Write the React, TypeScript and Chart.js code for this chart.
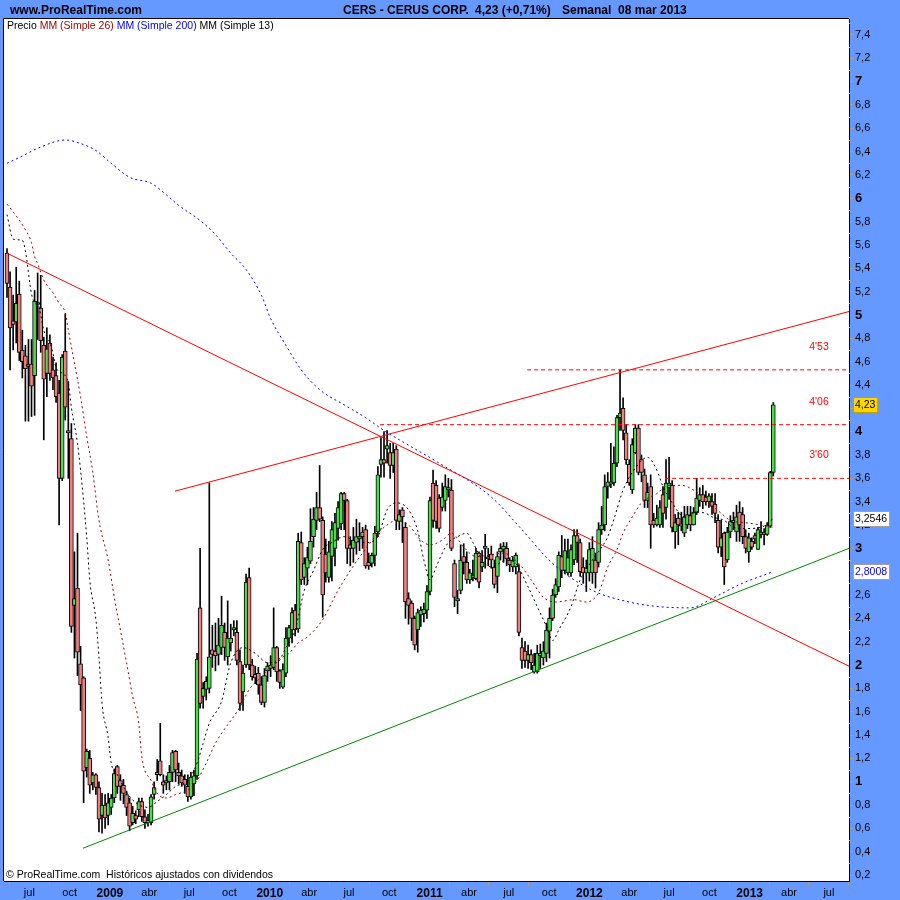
import React, { useEffect, useRef } from "react";
import { Chart, registerables } from "chart.js";
Chart.register(...registerables);

// Weekly candles, week 0 = 12 May 2008, last = 04 Mar 2013
const opens = [
  5.53, 5.24, 4.95, 4.94, 5.18, 4.70, 4.65, 4.58, 4.58, 4.48,
  5.10, 5.06, 4.74, 4.50, 4.76, 4.53, 4.48, 4.33, 3.60, 4.69,
  4.01, 3.94, 2.51, 2.66, 2.01, 1.89, 1.12, 1.20, 0.99, 1.06,
  0.95, 0.71, 0.80, 0.71, 0.78, 0.86, 1.13, 1.01, 0.97, 0.89,
  0.82, 0.65, 0.71, 0.76, 0.83, 0.70, 0.65, 0.65, 0.89, 1.06,
  1.18, 1.00, 0.99, 1.00, 1.08, 1.26, 1.08, 1.05, 1.02, 0.96,
  0.87, 0.98, 1.05, 2.49, 1.73, 1.79, 1.80, 2.13, 2.12, 2.09,
  2.15, 2.28, 2.07, 2.19, 2.30, 2.28, 2.03, 1.77, 2.00, 2.75,
  2.00, 1.92, 1.93, 1.83, 1.68, 1.95, 1.97, 1.98, 2.15, 1.95,
  1.81, 1.93, 2.23, 2.30, 2.47, 2.31, 3.05, 2.75, 2.83, 2.89,
  3.10, 3.24, 3.35, 3.24, 2.95, 2.75, 2.93, 3.00, 3.17, 3.21,
  3.47, 3.41, 3.03, 3.00, 3.05, 3.08, 3.10, 3.16, 2.88, 2.87,
  2.94, 3.14, 3.72, 3.76, 3.85, 3.82, 3.71, 3.85, 3.23, 3.33,
  3.18, 2.57, 2.53, 2.40, 2.30, 2.43, 2.44, 2.47, 2.63, 3.56,
  3.54, 3.43, 3.35, 3.41, 3.50, 3.50, 2.87, 2.55, 2.64, 2.93,
  2.88, 2.73, 2.75, 2.74, 2.96, 2.84, 3.00, 2.92, 2.95, 2.84,
  2.76, 2.97, 2.99, 3.00, 2.90, 2.84, 2.84, 2.80, 2.15, 2.12,
  2.04, 2.09, 1.94, 1.94, 2.08, 2.06, 2.10, 2.29, 2.40, 2.60,
  2.67, 2.93, 2.81, 2.79, 2.79, 2.90, 3.11, 3.05, 2.84, 2.79,
  2.79, 2.79, 2.90, 2.88, 3.16, 3.20, 3.53, 3.55, 3.56, 3.73,
  4.12, 4.20, 3.99, 3.72, 3.50, 3.82, 4.03, 3.76, 3.63, 3.41,
  3.53, 3.24, 3.20, 3.20, 3.46, 3.35, 3.52, 3.54, 3.14, 3.26,
  3.21, 3.13, 3.20, 3.28, 3.20, 3.31, 3.41, 3.46, 3.44, 3.40,
  3.40, 3.38, 3.24, 3.01, 3.13, 2.90, 3.14, 3.22, 3.14, 3.31,
  3.29, 3.10, 2.97, 3.06, 3.11, 2.99, 3.14, 3.12, 3.12, 3.19,
  3.65,
];
const highs = [
  5.57, 5.37, 5.17, 5.41, 5.29, 4.87, 4.74, 4.79, 4.79, 5.21,
  5.36, 5.34, 4.81, 4.89, 4.83, 4.64, 4.59, 4.44, 4.66, 5.01,
  4.43, 4.07, 2.97, 3.13, 2.16, 1.90, 1.28, 1.27, 1.08, 1.07,
  1.00, 0.90, 0.89, 0.90, 0.89, 1.11, 1.14, 1.06, 1.02, 0.92,
  0.86, 0.79, 0.75, 0.86, 0.86, 0.76, 0.72, 0.89, 1.00, 1.19,
  1.50, 1.06, 1.05, 1.14, 1.27, 1.27, 1.16, 1.10, 1.06, 1.06,
  1.08, 1.10, 2.10, 3.00, 1.85, 1.90, 3.56, 2.34, 2.36, 2.40,
  2.59, 2.36, 2.55, 2.35, 2.38, 2.38, 2.13, 2.00, 2.78, 2.83,
  2.05, 1.99, 1.98, 1.90, 1.97, 2.02, 2.08, 2.49, 2.16, 1.96,
  2.01, 2.32, 2.34, 2.49, 2.52, 3.13, 3.14, 2.92, 3.01, 3.34,
  3.35, 3.48, 3.71, 3.27, 3.08, 3.06, 3.23, 3.30, 3.40, 3.48,
  3.48, 3.42, 3.10, 3.18, 3.25, 3.22, 3.18, 3.20, 2.96, 2.96,
  3.19, 3.70, 3.95, 4.00, 4.01, 3.90, 3.90, 3.88, 3.33, 3.35,
  3.22, 2.62, 2.55, 2.42, 2.48, 2.50, 2.53, 2.68, 3.44, 3.67,
  3.58, 3.46, 3.56, 3.63, 3.60, 3.59, 2.90, 2.64, 3.03, 3.04,
  2.97, 2.82, 2.90, 3.00, 2.97, 2.98, 3.12, 3.00, 3.02, 2.90,
  2.97, 3.04, 3.05, 3.05, 2.92, 2.93, 2.96, 2.86, 2.23, 2.20,
  2.17, 2.13, 2.10, 2.17, 2.18, 2.20, 2.36, 2.49, 2.65, 2.74,
  2.97, 3.11, 3.08, 3.08, 3.03, 3.16, 3.16, 3.08, 2.92, 2.90,
  3.05, 3.10, 2.96, 3.22, 3.36, 3.63, 3.65, 3.90, 3.87, 4.14,
  4.53, 4.29, 4.06, 3.76, 3.94, 4.06, 4.06, 3.80, 3.68, 3.56,
  3.63, 3.30, 3.37, 3.41, 3.53, 3.76, 3.78, 3.58, 3.29, 3.31,
  3.31, 3.36, 3.36, 3.36, 3.35, 3.60, 3.52, 3.54, 3.49, 3.47,
  3.47, 3.47, 3.29, 3.24, 3.14, 3.18, 3.28, 3.31, 3.37, 3.40,
  3.35, 3.16, 3.13, 3.09, 3.13, 3.18, 3.23, 3.17, 3.22, 3.66,
  4.25,
];
const lows = [
  5.15, 4.53, 4.70, 4.76, 4.61, 4.46, 4.09, 4.09, 4.13, 4.14,
  4.79, 4.68, 3.93, 4.30, 4.44, 4.36, 4.25, 3.20, 3.58, 4.10,
  3.60, 2.28, 2.06, 1.91, 1.61, 0.82, 1.04, 0.90, 0.93, 0.89,
  0.57, 0.56, 0.60, 0.63, 0.72, 0.82, 0.90, 0.84, 0.81, 0.71,
  0.58, 0.63, 0.64, 0.70, 0.66, 0.60, 0.62, 0.63, 0.85, 1.01,
  1.05, 0.90, 0.93, 0.93, 1.00, 1.00, 0.98, 0.96, 0.90, 0.83,
  0.85, 0.88, 1.02, 1.63, 1.63, 1.70, 1.76, 1.98, 1.95, 2.00,
  2.09, 2.04, 2.00, 2.12, 2.25, 2.00, 1.61, 1.61, 1.98, 1.96,
  1.87, 1.84, 1.75, 1.66, 1.64, 1.86, 1.90, 1.96, 1.86, 1.80,
  1.80, 1.90, 2.16, 2.19, 2.25, 2.28, 2.69, 2.69, 2.69, 2.87,
  3.01, 3.16, 3.23, 2.41, 2.71, 2.71, 2.72, 2.85, 3.07, 3.16,
  3.16, 2.87, 2.85, 2.88, 2.95, 2.98, 3.00, 2.83, 2.82, 2.84,
  2.85, 3.10, 3.61, 3.61, 3.73, 3.60, 3.65, 3.16, 3.16, 3.05,
  2.40, 2.35, 2.21, 2.13, 2.11, 2.33, 2.37, 2.40, 2.60, 3.18,
  3.17, 3.14, 3.32, 3.32, 3.44, 2.98, 2.50, 2.44, 2.61, 2.78,
  2.70, 2.70, 2.72, 2.73, 2.66, 2.80, 2.83, 2.85, 2.83, 2.66,
  2.62, 2.90, 2.88, 2.85, 2.80, 2.80, 2.78, 2.25, 1.97, 1.98,
  1.97, 1.96, 1.93, 1.93, 1.97, 2.00, 2.03, 2.06, 2.38, 2.58,
  2.63, 2.75, 2.78, 2.77, 2.76, 2.86, 2.88, 2.76, 2.70, 2.63,
  2.72, 2.70, 2.66, 2.84, 3.12, 3.15, 3.43, 3.52, 3.54, 3.70,
  4.01, 3.93, 3.72, 3.54, 3.47, 3.81, 3.63, 3.57, 3.35, 3.35,
  3.00, 3.18, 3.19, 3.18, 3.18, 3.25, 3.42, 3.14, 3.00, 3.03,
  3.15, 3.10, 3.17, 3.15, 3.20, 3.29, 3.36, 3.34, 3.37, 3.35,
  3.29, 3.22, 2.96, 2.93, 2.69, 2.88, 3.09, 3.16, 3.06, 3.06,
  3.04, 2.96, 2.88, 2.99, 3.04, 2.99, 3.09, 3.03, 3.11, 3.18,
  3.62,
];
const closes = [
  5.27, 4.89, 4.92, 5.10, 4.68, 4.60, 4.54, 4.56, 4.39, 5.12,
  5.09, 4.78, 4.45, 4.71, 4.50, 4.46, 4.30, 3.60, 4.64, 4.21,
  3.99, 2.33, 2.57, 2.11, 1.83, 1.09, 1.26, 0.97, 1.06, 0.95,
  0.68, 0.80, 0.69, 0.82, 0.86, 1.07, 0.96, 0.96, 0.90, 0.78,
  0.62, 0.73, 0.68, 0.83, 0.70, 0.65, 0.67, 0.87, 0.95, 1.08,
  1.06, 0.97, 1.01, 1.08, 1.25, 1.10, 1.05, 0.99, 0.97, 0.87,
  1.04, 1.05, 2.05, 1.67, 1.80, 1.86, 2.07, 2.09, 2.08, 2.17,
  2.34, 2.15, 2.23, 2.23, 2.32, 2.04, 1.67, 1.93, 2.71, 2.00,
  1.90, 1.89, 1.83, 1.68, 1.91, 1.99, 2.00, 2.15, 1.94, 1.85,
  1.96, 2.23, 2.32, 2.45, 2.30, 3.06, 2.73, 2.87, 2.92, 3.06,
  3.25, 3.35, 3.25, 2.60, 2.79, 2.97, 3.16, 3.22, 3.35, 3.47,
  3.41, 3.00, 3.00, 3.07, 3.10, 3.10, 3.14, 2.85, 2.85, 2.94,
  3.13, 3.63, 3.76, 3.73, 3.88, 3.71, 3.82, 3.24, 3.29, 3.27,
  2.54, 2.51, 2.40, 2.17, 2.45, 2.47, 2.48, 2.63, 3.41, 3.24,
  3.23, 3.17, 3.44, 3.53, 3.52, 3.00, 2.58, 2.57, 2.90, 2.88,
  2.73, 2.79, 2.77, 2.96, 2.71, 2.88, 3.02, 2.91, 2.90, 2.69,
  2.93, 3.00, 3.02, 2.91, 2.86, 2.90, 2.94, 2.28, 2.04, 2.04,
  2.09, 2.02, 2.00, 2.10, 2.10, 2.12, 2.30, 2.40, 2.60, 2.69,
  2.94, 2.81, 2.98, 2.92, 2.99, 3.11, 3.05, 2.80, 2.79, 2.83,
  2.99, 3.00, 2.79, 3.16, 3.20, 3.53, 3.57, 3.57, 3.73, 4.12,
  4.16, 4.01, 3.76, 3.56, 3.89, 4.03, 3.65, 3.65, 3.41, 3.48,
  3.20, 3.20, 3.26, 3.35, 3.30, 3.56, 3.56, 3.18, 3.22, 3.20,
  3.19, 3.27, 3.29, 3.20, 3.31, 3.43, 3.46, 3.40, 3.40, 3.45,
  3.36, 3.30, 3.01, 3.09, 2.84, 3.14, 3.23, 3.24, 3.27, 3.20,
  3.10, 3.00, 3.09, 3.01, 3.08, 3.16, 3.12, 3.14, 3.20, 3.65,
  4.23,
];

// Moving averages (week index, value)
const ma13Weeks = [0, 2, 5, 6, 8, 9, 10, 12, 14, 15, 16, 18, 20, 21, 23, 24, 26, 27, 29, 30, 31, 33, 34, 36, 39, 42, 46, 49, 52, 55, 59, 62, 64, 66, 70, 73, 77, 81, 85, 88, 91, 94, 97, 100, 103, 106, 110, 113, 117, 121, 124, 127, 131, 134, 136, 138, 140, 142, 144, 147, 150, 152, 155, 158, 163, 166, 170, 173, 176, 178, 180, 184, 187, 191, 196, 198, 201, 204, 209, 212, 214, 217, 221, 225, 228, 230, 234, 237, 241, 246, 250];
const ma13Values = [5.86, 5.65, 5.64, 5.55, 5.18, 5.11, 5.10, 4.87, 4.76, 4.67, 4.55, 4.50, 4.42, 4.21, 3.90, 3.67, 3.10, 2.73, 2.39, 2.07, 1.67, 1.38, 1.16, 1.06, 0.91, 0.82, 0.78, 0.83, 0.89, 0.96, 1.01, 1.16, 1.33, 1.50, 1.69, 2.02, 2.15, 2.10, 2.02, 2.02, 2.15, 2.30, 2.64, 2.81, 2.99, 3.05, 3.10, 3.07, 3.05, 3.10, 3.33, 3.39, 3.33, 3.15, 2.90, 2.73, 2.84, 2.96, 3.05, 3.10, 3.13, 3.05, 2.90, 2.84, 2.90, 2.87, 2.67, 2.50, 2.33, 2.21, 2.30, 2.50, 2.73, 2.90, 3.10, 3.25, 3.50, 3.65, 3.78, 3.67, 3.53, 3.39, 3.27, 3.31, 3.30, 3.27, 3.24, 3.18, 3.17, 3.18, 3.2546];

const ma26Weeks = [0, 3, 6, 8, 9, 10, 12, 15, 17, 19, 20, 22, 24, 26, 28, 30, 33, 35, 37, 39, 41, 43, 44, 47, 49, 52, 55, 59, 62, 65, 68, 76, 79, 83, 88, 92, 95, 98, 103, 108, 112, 116, 121, 124, 127, 131, 135, 138, 142, 145, 149, 153, 157, 162, 167, 171, 175, 179, 185, 189, 193, 196, 199, 201, 204, 207, 212, 216, 220, 224, 229, 233, 236, 241, 246, 250];
const ma26Values = [5.95, 5.85, 5.73, 5.62, 5.50, 5.44, 5.30, 5.19, 5.10, 5.02, 4.87, 4.59, 4.30, 3.96, 3.65, 3.24, 2.90, 2.58, 2.30, 2.02, 1.73, 1.50, 1.21, 1.01, 0.90, 0.86, 0.89, 0.93, 1.01, 1.16, 1.33, 1.64, 1.79, 1.90, 2.04, 2.10, 2.19, 2.24, 2.39, 2.64, 2.81, 2.96, 3.13, 3.20, 3.24, 3.20, 3.07, 3.03, 3.07, 3.13, 3.01, 2.93, 2.94, 2.96, 2.87, 2.73, 2.58, 2.54, 2.56, 2.54, 2.62, 2.84, 2.99, 3.13, 3.27, 3.39, 3.47, 3.54, 3.54, 3.50, 3.39, 3.30, 3.24, 3.22, 3.20, 3.18];

const ma200Weeks = [0, 4, 11, 19, 24, 29, 34, 40, 47, 52, 56, 63, 68, 73, 78, 83, 86, 91, 96, 102, 110, 117, 123, 128, 141, 158, 168, 178, 191, 203, 213, 223, 230, 239, 250];
const ma200Values = [6.30, 6.35, 6.44, 6.50, 6.47, 6.41, 6.30, 6.18, 6.13, 6.03, 5.94, 5.81, 5.69, 5.53, 5.39, 5.17, 4.97, 4.74, 4.53, 4.36, 4.23, 4.12, 4.01, 3.93, 3.73, 3.44, 3.16, 2.87, 2.64, 2.54, 2.50, 2.49, 2.57, 2.69, 2.8008];

// Trendlines (week index, price)
const resistanceDown = [[0, 5.53], [274.7, 1.99]];
const resistanceUp = [[54.8, 3.49], [274.7, 5.03]];
const supportLine = [[24.8, 0.43], [274.7, 3.0]];
// Horizontal levels: start week, price, label
const levelStarts = [169.7, 121.7, 214.7];
const levelValues = [4.53, 4.06, 3.6];
const levelLabels = ["4'53", "4'06", "3'60"];

const quarterNames = ["", "abr", "jul", "oct"];
const firstTickYear = 2008, firstTickQuarter = 2, lastTickYear = 2013, lastTickQuarter = 2;

const lastPrice = 4.23;
const ma13Last = 3.2546;
const ma200Last = 2.8008;

const FONT = '"Liberation Sans", Arial, sans-serif';
const BLUE_BG = "#6699FF";
const GREEN = "#4EDC4E";
const RED = "#F08080";
const TAN = "#C0A070";
const X_MIN = -0.98, X_MAX = 274.7;
const Y_MIN = 0.149, Y_MAX = 7.537;

const START = Date.UTC(2008, 4, 11);
const weekOf = (y: number, m: number) => (Date.UTC(y, m, 1) - START) / (7 * 86400000);

export default function App() {
  const ref = useRef<HTMLCanvasElement | null>(null);
  useEffect(() => {
    document.body.style.margin = "0";
    const canvas = ref.current!;
    const idx = opens.map((_, i) => i);
    const wickData = idx.map((i) => ({ x: i, y: [lows[i], highs[i]] }));
    const bodyData = idx.map((i) => ({ x: i, y: [Math.min(opens[i], closes[i]), Math.max(opens[i], closes[i])] }));
    const bodyColors = idx.map((i) => (closes[i] >= opens[i] ? GREEN : RED));

    const xTicks: { value: number; label: string; bold: boolean }[] = [];
    for (let y = firstTickYear; y <= lastTickYear; y++) {
      for (let q = 0; q < 4; q++) {
        if (y === firstTickYear && q < firstTickQuarter) continue;
        if (y === lastTickYear && q > lastTickQuarter) continue;
        xTicks.push({ value: weekOf(y, q * 3), label: q === 0 ? String(y) : quarterNames[q], bold: q === 0 });
      }
    }
    const findTick = (v: number) => xTicks.find((t) => Math.abs(t.value - v) < 1e-6);

    const line = (pts: number[][], color: string, dash: number[] = [], width = 1) => ({
      type: "line" as const,
      data: pts.map((p) => ({ x: p[0], y: p[1] })),
      borderColor: color,
      borderWidth: width,
      borderDash: dash,
      pointRadius: 0,
      fill: false,
      order: 1,
    });
    const maLine = (weeks: number[], vals: number[], color: string, dash: number[]) => ({
      type: "line" as const,
      data: weeks.map((w, k) => ({ x: w, y: vals[k] })),
      borderColor: color,
      borderWidth: 1,
      borderDash: dash,
      pointRadius: 0,
      fill: false,
      cubicInterpolationMode: "monotone" as const,
      order: 2,
    });

    const datasets: any[] = [
      {
        type: "bar",
        data: wickData,
        backgroundColor: "#000",
        barThickness: 1,
        grouped: false,
        order: 6,
      },
      {
        type: "bar",
        data: bodyData,
        backgroundColor: bodyColors,
        borderColor: "#000",
        borderWidth: 1,
        borderSkipped: false,
        barThickness: 4,
        minBarLength: 2,
        grouped: false,
        order: 5,
      },
      maLine(ma200Weeks, ma200Values, "#0000FF", [2, 3]),
      maLine(ma26Weeks, ma26Values, "#990000", [2, 3]),
      maLine(ma13Weeks, ma13Values, "#000000", [2, 3]),
      line(resistanceDown, "#FF0000"),
      line(resistanceUp, "#FF0000"),
      line(supportLine, "#008800"),
      ...levelValues.map((v, k) => line([[levelStarts[k], v], [X_MAX, v]], "#FF0000", [4, 3])),
    ];

    const deco = {
      id: "deco",
      beforeDraw(chart: any) {
        const { ctx, chartArea: a } = chart;
        ctx.save();
        ctx.fillStyle = BLUE_BG;
        ctx.fillRect(0, 0, chart.width, chart.height);
        ctx.fillStyle = "#FFFFFF";
        ctx.fillRect(a.left, a.top, a.right - a.left, a.bottom - a.top);
        ctx.fillStyle = "#000";
        ctx.font = `bold 12px ${FONT}`;
        ctx.textBaseline = "alphabetic";
        ctx.textAlign = "left";
        ctx.fillText("www.ProRealTime.com", 10, 14);
        ctx.fillText("CERS - CERUS CORP.", 343, 14);
        ctx.fillText("4,23 (+0,71%)", 475, 14);
        ctx.fillText("Semanal  08 mar 2013", 562, 14);
        ctx.restore();
      },
      afterDraw(chart: any) {
        const { ctx, chartArea: a, scales } = chart;
        const ys = scales.y;
        ctx.save();
        ctx.strokeStyle = "#000";
        ctx.lineWidth = 1;
        ctx.beginPath();
        ctx.moveTo(a.left - 0.5, a.bottom);
        ctx.lineTo(a.left - 0.5, a.top - 0.5);
        ctx.lineTo(a.right, a.top - 0.5);
        ctx.stroke();
        ctx.strokeStyle = TAN;
        for (let k = 3; k <= 75; k += 2) {
          const y = Math.round(ys.getPixelForValue(k / 10)) + 0.5;
          ctx.beginPath();
          ctx.moveTo(a.right, y);
          ctx.lineTo(a.right + 2, y);
          ctx.stroke();
        }
        ctx.font = `10.5px ${FONT}`;
        ctx.textBaseline = "alphabetic";
        let x = 7;
        const parts: [string, string][] = [
          ["Precio ", "#000"],
          ["MM (Simple 26) ", "#990000"],
          ["MM (Simple 200) ", "#0000FF"],
          ["MM (Simple 13)", "#000"],
        ];
        for (const [t, c] of parts) {
          ctx.fillStyle = c;
          ctx.fillText(t, x, 29);
          x += ctx.measureText(t).width;
        }
        ctx.fillStyle = "#000";
        ctx.fillText("\u00A9 ProRealTime.com  Hist\u00F3ricos ajustados con dividendos", 6, 878);
        ctx.fillStyle = "#FF0000";
        ctx.textAlign = "center";
        levelValues.forEach((v, k) => {
          ctx.fillText(levelLabels[k], a.right - 30, ys.getPixelForValue(v) - 20);
        });
        const box = (v: number, text: string, bg: string, fg: string, border: string) => {
          const y = ys.getPixelForValue(v);
          ctx.font = `10.5px ${FONT}`;
          const w = ctx.measureText(text).width + 4;
          ctx.fillStyle = bg;
          ctx.fillRect(a.right + 4, Math.round(y) - 8, w, 15);
          ctx.strokeStyle = border;
          ctx.strokeRect(a.right + 4.5, Math.round(y) - 7.5, w, 15);
          ctx.fillStyle = fg;
          ctx.textAlign = "left";
          ctx.textBaseline = "middle";
          ctx.fillText(text, a.right + 6, y + 0.5);
        };
        box(lastPrice, String(lastPrice).replace(".", ","), "#FFD700", "#000", "#C0A000");
        box(ma13Last, String(ma13Last).replace(".", ","), "#FFFFFF", "#000", "#A0A0A0");
        box(ma200Last, String(ma200Last).replace(".", ","), "#FFFFFF", "#0000FF", "#A0A0A0");
        ctx.restore();
      },
    };

    const chart = new Chart(canvas, {
      type: "bar",
      data: { datasets },
      options: {
        animation: false,
        responsive: false,
        events: [],
        layout: { padding: { left: 4, top: 19, right: 0, bottom: 0 } },
        plugins: { legend: { display: false }, tooltip: { enabled: false }, title: { display: false } },
        scales: {
          x: {
            type: "linear",
            min: X_MIN,
            max: X_MAX,
            offset: false,
            afterFit: (s: any) => {
              s.height = 19;
            },
            afterBuildTicks: (s: any) => {
              s.ticks = xTicks.map((t) => ({ value: t.value }));
            },
            ticks: {
              autoSkip: false,
              maxRotation: 0,
              minRotation: 0,
              padding: 1,
              color: "#000",
              font: (c: any) => {
                const t = c.tick ? findTick(c.tick.value) : undefined;
                return t && t.bold ? { family: FONT, size: 12, weight: "bold" } : { family: FONT, size: 11, weight: "normal" };
              },
              callback: (v: any) => {
                const t = findTick(Number(v));
                return t ? t.label : "";
              },
            },
            grid: { drawOnChartArea: false, drawTicks: true, tickLength: 4, color: TAN },
            border: { display: true, color: "#000", width: 1 },
          },
          y: {
            type: "linear",
            position: "right",
            min: Y_MIN,
            max: Y_MAX,
            afterFit: (s: any) => {
              s.width = 51;
            },
            afterBuildTicks: (s: any) => {
              const t = [];
              for (let k = 2; k <= 74; k += 2) t.push({ value: k / 10 });
              s.ticks = t;
            },
            ticks: {
              autoSkip: false,
              padding: 2,
              color: "#000",
              font: (c: any) => {
                const v = c.tick ? c.tick.value : 0;
                const isInt = Math.abs(v - Math.round(v)) < 1e-6;
                return isInt ? { family: FONT, size: 13, weight: "bold" } : { family: FONT, size: 11, weight: "normal" };
              },
              callback: (v: any) => {
                const n = Math.round(Number(v) * 10) / 10;
                return Number.isInteger(n) ? String(n) : n.toFixed(1).replace(".", ",");
              },
            },
            grid: { drawOnChartArea: false, drawTicks: true, tickLength: 4, color: TAN },
            border: { display: true, color: "#000", width: 1 },
          },
        },
      } as any,
      plugins: [deco],
    });
    return () => chart.destroy();
  }, []);
  return (
    <div style={{ width: 900, height: 900 }}>
      <canvas ref={ref} width={900} height={900} style={{ display: "block" }} />
    </div>
  );
}
